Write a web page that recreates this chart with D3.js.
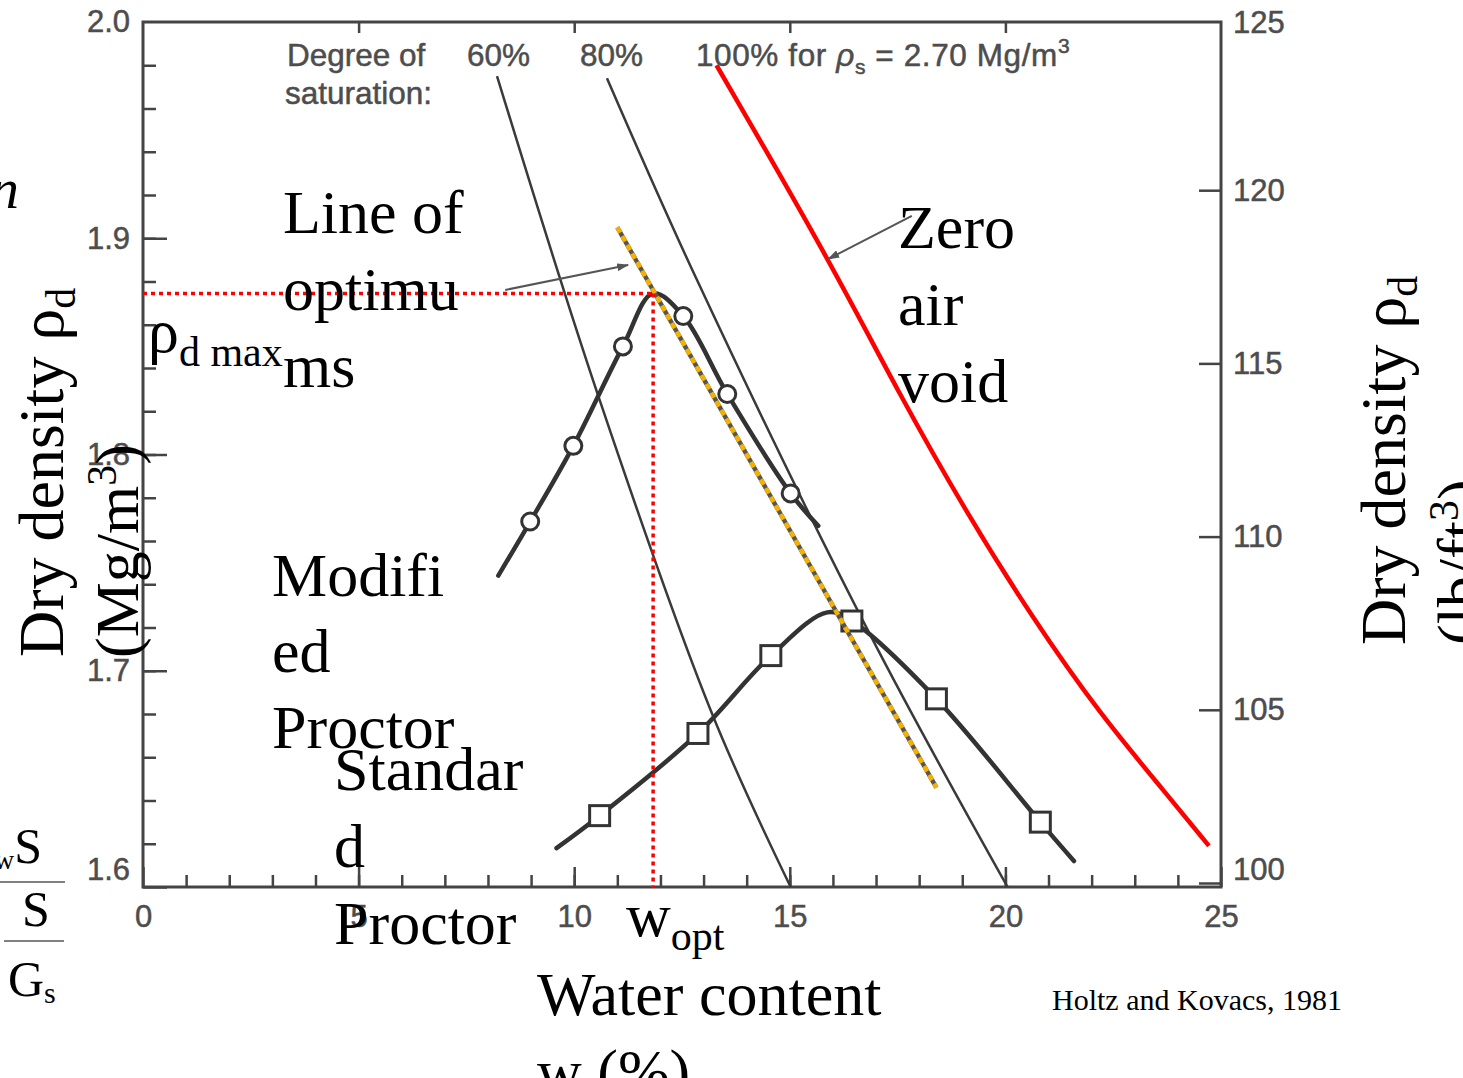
<!DOCTYPE html>
<html>
<head>
<meta charset="utf-8">
<script src="https://cdn.jsdelivr.net/npm/d3@7"></script>
<style>
  body { margin: 0; background: #fff; }
  svg { display: block; }
  .tick text { font-family: "Liberation Sans", Arial, sans-serif; fill: #4d4d4d; stroke: #4d4d4d; stroke-width: 0.5; }
  .scan { font-family: "Liberation Sans", Arial, sans-serif; fill: #4d4d4d; stroke: #4d4d4d; stroke-width: 0.5; }
  .serif { font-family: "Liberation Serif", "Times New Roman", serif; fill: #000; }
</style>
</head>
<body>
<svg id="chart" width="1463" height="1078"></svg>
<script>
// water content w (%) vs dry density (Mg/m3)
const modifiedCurve = [[8.24, 1.744], [8.98, 1.769], [9.98, 1.804], [11.13, 1.850], [11.83, 1.8745],
  [12.53, 1.864], [13.55, 1.828], [15.02, 1.782], [15.66, 1.767]];
const modifiedPoints = [[8.98, 1.769], [9.98, 1.804], [11.13, 1.850], [12.53, 1.864], [13.55, 1.828], [15.02, 1.782]];
const standardCurve = [[9.59, 1.618], [10.59, 1.633], [12.87, 1.671], [14.56, 1.707], [15.87, 1.727],
  [16.44, 1.723], [18.40, 1.687], [20.81, 1.630], [21.59, 1.612]];
const standardPoints = [[10.59, 1.633], [12.87, 1.671], [14.56, 1.707], [16.44, 1.723], [18.40, 1.687], [20.81, 1.630]];
const sat60 = [[8.21, 1.975], [10.56, 1.827], [13.2, 1.680], [15.02, 1.600]];
const sat80 = [[10.76, 1.974], [12.84, 1.881], [16.88, 1.716], [20.05, 1.600]];
const zeroAir = [[13.3, 1.980], [15.89, 1.891], [17.56, 1.827], [19.10, 1.773], [20.64, 1.724],
  [22.19, 1.680], [23.74, 1.643], [24.72, 1.619]];
const optimumLine = [[11.0, 1.905], [18.4, 1.646]];
const optimum = [11.83, 1.8745];
const optArrow = [[8.40, 1.8761], [11.25, 1.8876]];
const zavArrow = [[17.83, 1.9103], [15.89, 1.8904]];

const densTicks = [1.6, 1.7, 1.8, 1.9, 2.0];
const lbTicks = [100, 105, 110, 115, 120, 125];
const wTicks = [0, 5, 10, 15, 20, 25];
const LB = 0.0160185; // Mg/m3 per lb/ft3

const svg = d3.select('#chart');
const x = d3.scaleLinear().domain([0, 25]).range([143, 1221]);
const y = d3.scaleLinear().domain([1.6, 2.0]).range([887, 22]);
const yLb = d3.scaleLinear().domain([1.6 / LB, 2.0 / LB]).range([887, 22]);

const axisColor = '#444';

// minor ticks
svg.append('g').attr('transform', `translate(${x(0)},0)`)
  .call(d3.axisLeft(y).tickValues(d3.range(1.62, 2.0, 0.02)).tickSize(-13).tickFormat(''));
svg.append('g').attr('transform', `translate(0,${y(1.6)})`)
  .call(d3.axisBottom(x).tickValues(d3.range(1, 25, 1)).tickSize(-12).tickFormat(''));

// major ticks + labels
const left = svg.append('g').attr('transform', `translate(${x(0)},0)`)
  .call(d3.axisLeft(y).tickValues(densTicks).tickSize(-24).tickPadding(13).tickFormat(d3.format('.1f')));
svg.append('g').attr('transform', `translate(0,${y(1.6)})`)
  .call(d3.axisBottom(x).tickValues(wTicks).tickSize(-20).tickPadding(18).tickFormat(d3.format('d')));
svg.append('g').attr('transform', `translate(0,${y(2.0)})`)
  .call(d3.axisTop(x).tickValues([5, 10, 15, 20]).tickSize(-11).tickFormat(''));
const right = svg.append('g').attr('transform', `translate(${x(25)},0)`)
  .call(d3.axisRight(yLb).tickValues(lbTicks).tickSize(-22).tickPadding(12).tickFormat(d3.format('d')));

svg.selectAll('.domain').remove();
svg.selectAll('.tick line').attr('stroke', axisColor).attr('stroke-width', 2.5);
svg.selectAll('.tick text').attr('font-size', 31);
left.selectAll('.tick').filter(d => d === 1.6).select('text').attr('dy', '-0.25em');
left.selectAll('.tick').filter(d => d === 2.0).select('line').remove();
right.selectAll('.tick').filter(d => d === 100).select('text').attr('dy', '-0.12em');
right.selectAll('.tick').filter(d => d === 125).select('text').attr('dy', '0.5em');
right.selectAll('.tick').filter(d => d === 125).select('line').remove();

svg.append('rect')
  .attr('x', x(0)).attr('y', y(2.0))
  .attr('width', x(25) - x(0)).attr('height', y(1.6) - y(2.0))
  .attr('fill', 'none').attr('stroke', axisColor).attr('stroke-width', 3);

const line = d3.line().x(d => x(d[0])).y(d => y(d[1]));
const smooth = d3.line().x(d => x(d[0])).y(d => y(d[1])).curve(d3.curveCatmullRom.alpha(0.5));

// degree of saturation lines
[sat60, sat80].forEach(s => {
  svg.append('path').datum(s).attr('d', smooth)
    .attr('fill', 'none').attr('stroke', '#3a3a3a').attr('stroke-width', 2.5);
});
svg.append('path').datum(zeroAir).attr('d', d3.line().x(d => x(d[0])).y(d => y(d[1])).curve(d3.curveBasis))
  .attr('fill', 'none').attr('stroke', '#ff0000').attr('stroke-width', 4.5);

// compaction curves
[modifiedCurve, standardCurve].forEach(c => {
  svg.append('path').datum(c).attr('d', smooth)
    .attr('fill', 'none').attr('stroke', '#333').attr('stroke-width', 4.5)
    .attr('stroke-linecap', 'round');
});
svg.append('g').selectAll('circle').data(modifiedPoints).join('circle')
  .attr('cx', d => x(d[0])).attr('cy', d => y(d[1])).attr('r', 8.5)
  .attr('fill', '#fff').attr('stroke', '#333').attr('stroke-width', 3);
svg.append('g').selectAll('rect').data(standardPoints).join('rect')
  .attr('x', d => x(d[0]) - 10).attr('y', d => y(d[1]) - 10)
  .attr('width', 20).attr('height', 20)
  .attr('fill', '#fff').attr('stroke', '#333').attr('stroke-width', 3);

// line of optimums
svg.append('path').datum(optimumLine).attr('d', line)
  .attr('stroke', '#555').attr('stroke-width', 4.5);
svg.append('path').datum(optimumLine).attr('d', line)
  .attr('stroke', '#f5b000').attr('stroke-width', 4.5).attr('stroke-dasharray', '6,4');

// rho_d max / w_opt guides
const dotted = { stroke: '#ff0000', 'stroke-width': 3.5, 'stroke-dasharray': '4,4' };
const hl = svg.append('line')
  .attr('x1', x(0)).attr('x2', x(optimum[0])).attr('y1', y(optimum[1])).attr('y2', y(optimum[1]));
const vl = svg.append('line')
  .attr('x1', x(optimum[0])).attr('x2', x(optimum[0])).attr('y1', y(optimum[1])).attr('y2', y(1.6));
[hl, vl].forEach(l => Object.entries(dotted).forEach(([k, v]) => l.attr(k, v)));

// arrows
const defs = svg.append('defs');
defs.append('marker').attr('id', 'ah').attr('viewBox', '0 0 12 8')
  .attr('refX', 11).attr('refY', 4).attr('markerWidth', 12).attr('markerHeight', 8)
  .attr('markerUnits', 'userSpaceOnUse').attr('orient', 'auto')
  .append('path').attr('d', 'M0,0L12,4L0,8z').attr('fill', '#555');
[optArrow, zavArrow].forEach(a => {
  svg.append('path').datum(a).attr('d', line)
    .attr('stroke', '#555').attr('stroke-width', 2).attr('marker-end', 'url(#ah)');
});

// scanned labels
const sc = svg.append('g').attr('class', 'scan').attr('font-size', 31.5);
sc.append('text').attr('x', 287).attr('y', 66).text('Degree of');
sc.append('text').attr('x', 285).attr('y', 104).text('saturation:');
sc.append('text').attr('x', 467).attr('y', 66).text('60%');
sc.append('text').attr('x', 580).attr('y', 66).text('80%');
const t100 = sc.append('text').attr('x', 696).attr('y', 66).attr('letter-spacing', 0.6);
t100.append('tspan').text('100% for ');
t100.append('tspan').attr('font-style', 'italic').text('ρ');
t100.append('tspan').attr('font-size', 21).attr('dy', 8).text('s');
t100.append('tspan').attr('dy', -8).text(' = 2.70 Mg/m');
t100.append('tspan').attr('font-size', 21).attr('dy', -13).text('3');

// serif annotations
const se = svg.append('g').attr('class', 'serif').attr('font-size', 62);
function lines(xp, yp, arr, step) {
  arr.forEach((s, i) => se.append('text').attr('x', xp).attr('y', yp + i * step).text(s));
}
lines(283, 233, ['Line of', 'optimu', 'ms'], 77);
lines(898, 248, ['Zero', 'air', 'void'], 77);
lines(272, 596, ['Modifi', 'ed', 'Proctor'], 76);
lines(334, 790, ['Standar', 'd', 'Proctor'], 77);
lines(537, 1015, ['Water content', 'w (%)'], 77);

const rm = se.append('text').attr('x', 148).attr('y', 352);
rm.append('tspan').text('ρ');
rm.append('tspan').attr('font-size', 42).attr('dy', 14).text('d max');

const wo = se.append('text').attr('x', 626).attr('y', 936);
wo.append('tspan').text('w');
wo.append('tspan').attr('font-size', 42).attr('dy', 14).text('opt');

se.append('text').attr('x', 1052).attr('y', 1010).attr('font-size', 30).text('Holtz and Kovacs, 1981');
se.append('text').attr('x', -10).attr('y', 208).attr('font-size', 58).attr('font-style', 'italic').text('n');

// axis titles
function yTitle(xb, yb, first) {
  const t = se.append('text').attr('font-size', 64).attr('transform', `translate(${xb},${yb}) rotate(-90)`);
  t.append('tspan').text(first);
  t.append('tspan').text('ρ');
  t.append('tspan').attr('font-size', 42).attr('dy', 12).text('d');
}
yTitle(63, 657, 'Dry density ');
yTitle(1405, 645, 'Dry density ');
const mg = se.append('text').attr('transform', 'translate(138,658) rotate(-90)');
mg.append('tspan').text('(Mg/m');
mg.append('tspan').attr('font-size', 42).attr('dy', -22).text('3');
mg.append('tspan').attr('dy', 22).text(')');
const lb = se.append('text').attr('transform', 'translate(1480,645) rotate(-90)');
lb.append('tspan').text('(lb/ft');
lb.append('tspan').attr('font-size', 42).attr('dy', -22).text('3');
lb.append('tspan').attr('dy', 22).text(')');

// cut-off fraction at the lower left
const fr = se.append('g').attr('font-size', 50);
const s1 = fr.append('text').attr('x', -6).attr('y', 863);
s1.append('tspan').attr('font-size', 28).attr('dy', 6).text('w');
s1.append('tspan').attr('dy', -6).text('S');
fr.append('text').attr('x', 22).attr('y', 926).text('S');
const gs = fr.append('text').attr('x', 8).attr('y', 996);
gs.append('tspan').text('G');
gs.append('tspan').attr('font-size', 30).attr('dy', 7).text('s');
fr.append('line').attr('x1', 0).attr('x2', 65).attr('y1', 882).attr('y2', 882)
  .attr('stroke', '#808080').attr('stroke-width', 2);
fr.append('line').attr('x1', 4).attr('x2', 64).attr('y1', 941).attr('y2', 941)
  .attr('stroke', '#808080').attr('stroke-width', 2);
</script>
</body>
</html>
